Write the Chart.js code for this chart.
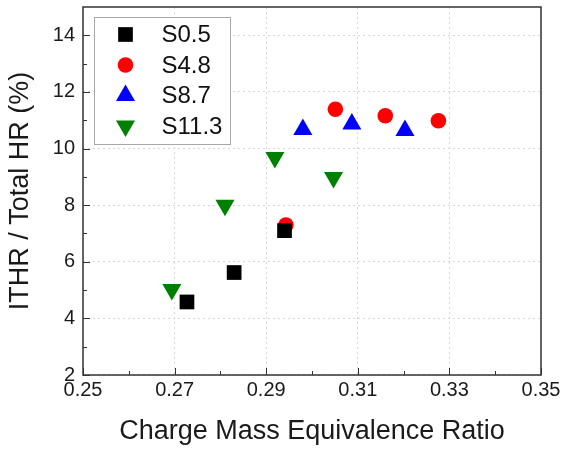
<!DOCTYPE html>
<html>
<head>
<meta charset="utf-8">
<title>ITHR / Total HR</title>
<script src="https://cdn.jsdelivr.net/npm/chart.js@4.4.0/dist/chart.umd.min.js"></script>
<style>
    html, body { margin: 0; padding: 0; background: #fff; }
    canvas { display: block; }
</style>
</head>
<body>
<canvas id="ithrChart" width="564" height="450"></canvas>
<script>
// Data
const seriesNames = ['S0.5', 'S4.8', 'S8.7', 'S11.3'];

const s05X = [0.2727, 0.2830, 0.2940];
const s05Y = [4.58, 5.62, 7.10];

const s48X = [0.2943, 0.3051, 0.3160, 0.3276];
const s48Y = [7.30, 11.39, 11.16, 10.98];

const s87X = [0.2980, 0.3087, 0.3203];
const s87Y = [10.67, 10.87, 10.64];

const s113X = [0.2694, 0.2810, 0.2919, 0.3047];
const s113Y = [5.02, 8.00, 9.68, 8.98];

const xTicks = [0.25, 0.27, 0.29, 0.31, 0.33, 0.35];
const yTicks = [2, 4, 6, 8, 10, 12, 14];

const fontFamily = '"Liberation Sans", Arial, sans-serif';
Chart.defaults.font.family = fontFamily;

function toPoints(xs, ys) {
    return xs.map((x, i) => ({ x: x, y: ys[i] }));
}

// midpoints between major ticks -> minor tick marks
function minorTicks(ticks) {
    const out = [];
    for (let i = 0; i < ticks.length - 1; i++) {
        out.push((ticks[i] + ticks[i + 1]) / 2);
    }
    return out;
}

// Legend in a box at the top left of the plot area
const boxLegend = {
    id: 'boxLegend',
    beforeDatasetsDraw(chart) {
        const { ctx, chartArea: a } = chart;
        const left = a.left + 11;
        const top = a.top + 10;
        ctx.save();
        ctx.fillStyle = '#fff';
        ctx.fillRect(left, top, 136, 127);
        ctx.strokeStyle = '#a8a8a8';
        ctx.lineWidth = 1;
        ctx.strokeRect(left + 0.5, top + 0.5, 136, 127);
        ctx.font = '24px ' + fontFamily;
        ctx.textBaseline = 'middle';
        ctx.textAlign = 'left';
        chart.data.datasets.forEach((ds, i) => {
            const cy = top + 17.5 + i * 30.5;
            ctx.fillStyle = ds.backgroundColor;
            Chart.helpers.drawPoint(ctx, {
                pointStyle: ds.pointStyle,
                rotation: ds.pointRotation || 0,
                radius: ds.pointRadius,
                borderWidth: 0
            }, left + 31.5, cy);
            ctx.fillStyle = '#111';
            ctx.fillText(ds.label, left + 67.5, cy + 1);
        });
        ctx.restore();
    }
};

// Closed frame plus inward tick marks
const frameTicks = {
    id: 'frameTicks',
    afterDraw(chart) {
        const { ctx, chartArea: a, scales: { x, y } } = chart;
        ctx.save();
        ctx.strokeStyle = '#333';
        ctx.lineWidth = 1.5;
        ctx.strokeRect(a.left, a.top, a.right - a.left, a.bottom - a.top);

        ctx.lineWidth = 1;
        ctx.beginPath();
        xTicks.forEach(v => {
            const px = Math.round(x.getPixelForValue(v)) + 0.5;
            ctx.moveTo(px, a.bottom);
            ctx.lineTo(px, a.bottom - 7);
        });
        minorTicks(xTicks).forEach(v => {
            const px = Math.round(x.getPixelForValue(v)) + 0.5;
            ctx.moveTo(px, a.bottom);
            ctx.lineTo(px, a.bottom - 4);
        });
        yTicks.forEach(v => {
            const py = Math.round(y.getPixelForValue(v)) + 0.5;
            ctx.moveTo(a.left, py);
            ctx.lineTo(a.left + 7, py);
        });
        minorTicks(yTicks).forEach(v => {
            const py = Math.round(y.getPixelForValue(v)) + 0.5;
            ctx.moveTo(a.left, py);
            ctx.lineTo(a.left + 4, py);
        });
        ctx.stroke();
        ctx.restore();
    }
};

const ctx = document.getElementById('ithrChart');

new Chart(ctx, {
    type: 'scatter',
    data: {
        datasets: [
            {
                label: seriesNames[0],
                data: toPoints(s05X, s05Y),
                pointStyle: 'rect',
                pointRadius: 10.4,
                backgroundColor: '#000000',
                borderWidth: 0
            },
            {
                label: seriesNames[1],
                data: toPoints(s48X, s48Y),
                pointStyle: 'circle',
                pointRadius: 7.8,
                backgroundColor: '#ff0000',
                borderWidth: 0
            },
            {
                label: seriesNames[2],
                data: toPoints(s87X, s87Y),
                pointStyle: 'triangle',
                pointRadius: 11,
                backgroundColor: '#0000ff',
                borderWidth: 0
            },
            {
                label: seriesNames[3],
                data: toPoints(s113X, s113Y),
                pointStyle: 'triangle',
                pointRotation: 180,
                pointRadius: 11,
                backgroundColor: '#008000',
                borderWidth: 0
            }
        ]
    },
    options: {
        responsive: false,
        animation: false,
        events: [],
        layout: {
            autoPadding: false,
            padding: { top: 7, right: 23, left: 0, bottom: 0 }
        },
        plugins: {
            legend: { display: false },
            tooltip: { enabled: false }
        },
        scales: {
            x: {
                type: 'linear',
                min: 0.25,
                max: 0.35,
                afterBuildTicks: scale => {
                    scale.ticks = xTicks.map(v => ({ value: v }));
                },
                afterFit: scale => {
                    scale.height = 75;
                    scale.paddingLeft = 0;
                    scale.paddingRight = 0;
                },
                grid: {
                    color: '#d8d8d8',
                    lineWidth: 1,
                    drawTicks: false
                },
                border: {
                    display: false,
                    dash: [2, 3]
                },
                ticks: {
                    padding: 3,
                    color: '#1a1a1a',
                    font: { size: 20 },
                    maxRotation: 0,
                    callback: value => value.toFixed(2)
                },
                title: {
                    display: true,
                    text: 'Charge Mass Equivalence Ratio',
                    color: '#1a1a1a',
                    font: { size: 27 },
                    padding: { top: 0, bottom: 2 }
                }
            },
            y: {
                type: 'linear',
                min: 2,
                max: 15,
                afterBuildTicks: scale => {
                    scale.ticks = yTicks.map(v => ({ value: v }));
                },
                afterFit: scale => {
                    scale.width = 83;
                    scale.paddingTop = 0;
                    scale.paddingBottom = 0;
                },
                grid: {
                    color: '#d8d8d8',
                    lineWidth: 1,
                    drawTicks: false
                },
                border: {
                    display: false,
                    dash: [2, 3]
                },
                ticks: {
                    padding: 8,
                    color: '#1a1a1a',
                    font: { size: 20 },
                    callback: value => String(value)
                },
                title: {
                    display: true,
                    text: 'ITHR / Total HR (%)',
                    color: '#1a1a1a',
                    font: { size: 27 },
                    padding: { top: 4, bottom: 0 }
                }
            }
        }
    },
    plugins: [boxLegend, frameTicks]
});
</script>
</body>
</html>
